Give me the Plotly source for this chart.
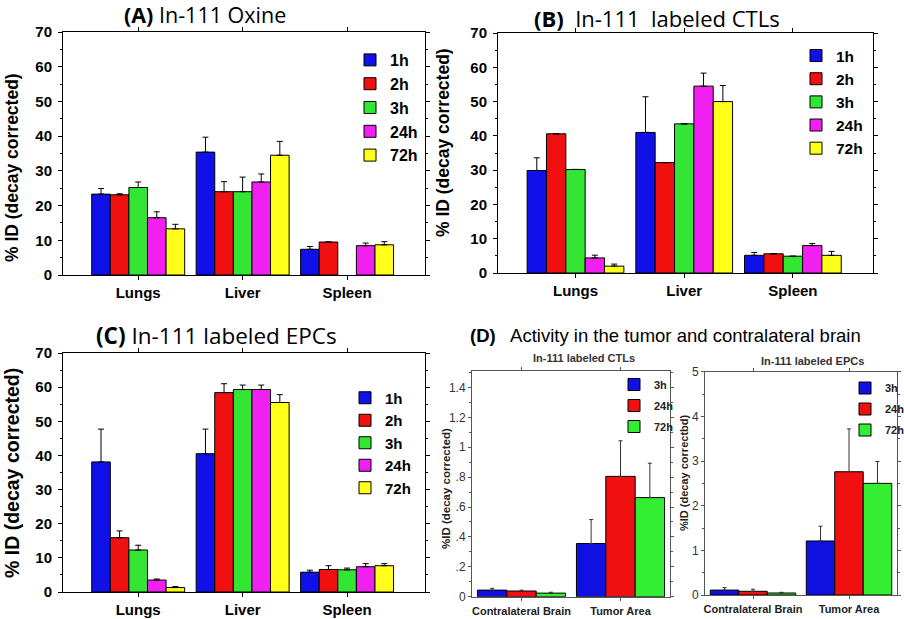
import plotly.graph_objects as go

# ---------------- data ----------------
organs = ["Lungs", "Liver", "Spleen"]
times_abc = ["1h", "2h", "3h", "24h", "72h"]

# Panel A: In-111 Oxine (mean, upper error; None = no error bar / no bar)
a_means = [[23.3, 35.4, 7.4], [23.1, 24.0, 9.5], [25.2, 24.0, None], [16.5, 26.8, 8.45], [13.3, 34.5, 8.7]]
a_errs = [[1.6, 4.3, 0.8], [0.3, 2.9, None], [1.6, 4.2, None], [1.7, 2.3, 0.75], [1.3, 4.0, 0.9]]

# Panel B: In-111 labeled CTLs
b_means = [[29.9, 41.0, 5.15], [40.6, 32.2, 5.6], [30.2, 43.5, 4.9], [4.4, 54.5, 8.0], [2.0, 50.0, 5.15]]
b_errs = [[3.7, 10.4, 0.85], [None, None, None], [None, None, None], [0.8, 3.8, 0.6], [0.6, 4.7, 1.15]]

# Panel C: In-111 labeled EPCs
c_means = [[38.1, 40.5, 5.8], [15.9, 58.4, 6.6], [12.3, 59.3, 6.5], [3.5, 59.3, 7.4], [1.3, 55.5, 7.7]]
c_errs = [[9.6, 7.2, 0.6], [2.0, 2.6, 1.1], [1.4, 1.3, 0.5], [0.3, 1.3, 0.9], [0.3, 2.3, 0.6]]

# Panel D: tumor vs contralateral brain
regions = ["Contralateral Brain", "Tumor Area"]
times_d = ["3h", "24h", "72h"]
d1_means = [[0.044, 0.356], [0.038, 0.805], [0.024, 0.663]]
d1_errs = [[0.012, 0.160], [0.006, 0.238], [0.006, 0.230]]
d2_means = [[0.11, 1.21], [0.083, 2.76], [0.045, 2.50]]
d2_errs = [[0.055, 0.33], [0.047, 0.96], [0.015, 0.49]]

d1_tickvals = [0, 0.2, 0.4, 0.6, 0.8, 1.0, 1.2, 1.4]
d1_ticktext = ["0", ".2", ".4", ".6", ".8", "1", "1.2", "1.4"]

colors_abc = ["#1010e8", "#f01010", "#33e633", "#f020f0", "#ffff1a"]
colors_d = ["#1010e0", "#f01010", "#33ee33"]

W, H = 904, 619


def px_x(v):
    return v / W


def px_y(v):
    return 1 - v / H


fig = go.Figure()


def add_panel(cats, names, means, errs, colors, ax, legend, err_color="black", err_w=3):
    for i, name in enumerate(names):
        fig.add_trace(go.Bar(
            x=cats, y=means[i], name=name,
            marker=dict(color=colors[i], line=dict(color="black", width=1)),
            error_y=dict(type="data", array=errs[i], arrayminus=[0] * len(errs[i]),
                         symmetric=False, color=err_color, thickness=1, width=err_w),
            xaxis="x" + ax, yaxis="y" + ax, legend=legend, legendgroup=legend + name,
        ))


add_panel(organs, times_abc, a_means, a_errs, colors_abc, "", "legend")
add_panel(organs, times_abc, b_means, b_errs, colors_abc, "2", "legend2")
add_panel(organs, times_abc, c_means, c_errs, colors_abc, "3", "legend3")
add_panel(regions, times_d, d1_means, d1_errs, colors_d, "4", "legend4", "#333", 2)
add_panel(regions, times_d, d2_means, d2_errs, colors_d, "5", "legend5", "#333", 2)

bold_tick = dict(family="Liberation Sans, Arial", size=15, color="black", weight="bold")


def xaxis_big(domain, anchor, rng):
    return dict(domain=domain, anchor=anchor, range=rng, showline=True, linecolor="black",
                linewidth=1, mirror="ticks", ticks="outside", ticklen=4, tickcolor="black",
                tickfont=bold_tick, showgrid=False, zeroline=False, fixedrange=True)


def yaxis_big(domain, anchor):
    return dict(domain=domain, anchor=anchor, range=[0, 70], dtick=10, showline=True,
                linecolor="black", linewidth=1, mirror="ticks", ticks="outside", ticklen=4,
                tickcolor="black", tickfont=bold_tick, showgrid=False, zeroline=False,
                minor=dict(dtick=5, ticks="outside", ticklen=2, tickcolor="black"),
                ticklabelstandoff=3)


small_tick = dict(family="Liberation Sans, Arial", size=12, color="#333")
small_cat = dict(family="Liberation Sans, Arial", size=11, color="#222", weight="bold")


def xaxis_small(domain, anchor):
    return dict(domain=domain, anchor=anchor, range=[-0.5, 1.5], showline=True, linecolor="#555",
                linewidth=1, mirror="ticks", ticks="outside", ticklen=3, tickcolor="#555",
                tickfont=small_cat, showgrid=False, zeroline=False, ticklabelstandoff=1)


def yaxis_small(domain, anchor, rng, dtick, minor, labels=None):
    d = dict(domain=domain, anchor=anchor, range=rng, dtick=dtick, showline=True, linecolor="#555",
             linewidth=1, mirror="ticks", ticks="outside", ticklen=3, tickcolor="#555",
             tickfont=small_tick, showgrid=False, zeroline=False,
             minor=dict(dtick=minor, ticks="outside", ticklen=2, tickcolor="#555"),
             ticklabelstandoff=0)
    if labels is not None:
        d.update(tickmode="array", tickvals=labels[0], ticktext=labels[1])
    return d


dA_x = [px_x(63), px_x(425)]
dA_y = [px_y(275), px_y(32)]
dB_x = [px_x(498), px_x(873)]
dB_y = [px_y(273), px_y(33)]
dC_x = [px_x(63), px_x(425)]
dC_y = [px_y(592), px_y(353)]
dD1_x = [px_x(472), px_x(670)]
dD1_y = [px_y(596.7), px_y(371)]
dD2_x = [px_x(705), px_x(897)]
dD2_y = [px_y(595), px_y(371.7)]


def lfont(size, color="black"):
    return dict(family="Liberation Sans, Arial", size=size, color=color, weight="bold")


def leg(x, y, font, gap):
    return dict(x=x, y=y, xref="paper", yref="paper", xanchor="left", yanchor="top",
                font=font, bgcolor="rgba(0,0,0,0)", tracegroupgap=gap, itemclick=False,
                borderwidth=0)


fig.update_layout(
    width=W, height=H, margin=dict(l=0, r=0, t=0, b=0, pad=0, autoexpand=False),
    paper_bgcolor="white", plot_bgcolor="white",
    barmode="group", bargap=0.11, bargroupgap=0,
    xaxis=xaxis_big(dA_x, "y", [-0.72, 2.746]),
    yaxis=yaxis_big(dA_y, "x"),
    xaxis2=xaxis_big(dB_x, "y2", [-0.713, 2.737]),
    yaxis2=yaxis_big(dB_y, "x2"),
    xaxis3=xaxis_big(dC_x, "y3", [-0.72, 2.746]),
    yaxis3=yaxis_big(dC_y, "x3"),
    xaxis4=xaxis_small(dD1_x, "y4"),
    yaxis4=yaxis_small(dD1_y, "x4", [0, 1.51], 0.2, 0.1, (d1_tickvals, d1_ticktext)),
    xaxis5=xaxis_small(dD2_x, "y5"),
    yaxis5=yaxis_small(dD2_y, "x5", [0, 5], 1, 0.5),
    legend=leg(px_x(350), px_y(43), lfont(16), 0),
    legend2=leg(px_x(796), px_y(39), lfont(15.5), 0),
    legend3=leg(px_x(345), px_y(381.5), lfont(15), 0),
    legend4=leg(px_x(614), px_y(370), lfont(11, "#222"), 2),
    legend5=leg(px_x(845), px_y(373.5), lfont(11, "#222"), 2),
    showlegend=True,
)

ylab_font = dict(family="Liberation Sans, Arial", size=17.5, color="black", weight="bold")

annotations = [
    dict(text="<b>(A)</b> In-111 Oxine", x=px_x(205), y=px_y(15),
         font=dict(family="Open Sans, Noto Sans", size=21.5, color="black")),
    dict(text="<b>(B)</b>  In-111  labeled CTLs", x=px_x(657), y=px_y(18),
         font=dict(family="Open Sans, Noto Sans", size=22, color="black")),
    dict(text="<b>(C)</b> In-111 labeled EPCs", x=px_x(216), y=px_y(335),
         font=dict(family="Open Sans, Noto Sans", size=22.5, color="black")),
    dict(text="<b>(D)</b>   Activity in the tumor and contralateral brain", x=px_x(665), y=px_y(335),
         font=dict(family="Liberation Sans, Arial", size=18.5, color="black")),
    dict(text="<b>In-111 labeled CTLs</b>", x=px_x(584), y=px_y(358),
         font=dict(family="Liberation Sans, Arial", size=11, color="#333")),
    dict(text="<b>In-111 labeled EPCs</b>", x=px_x(812), y=px_y(361),
         font=dict(family="Liberation Sans, Arial", size=11, color="#333")),
    dict(text="% ID (decay corrected)", x=px_x(12), y=px_y(168), textangle=-90, font=ylab_font),
    dict(text="% ID (decay corrected)", x=px_x(443), y=px_y(143), textangle=-90, font=ylab_font),
    dict(text="% ID (decay corrected)", x=px_x(12), y=px_y(473), textangle=-90,
         font=dict(family="Liberation Sans, Arial", size=19.5, color="black", weight="bold")),
    dict(text="%ID (decay corrected)", x=px_x(446), y=px_y(489), textangle=-90,
         font=dict(family="Liberation Sans, Arial", size=11.5, color="#222", weight="bold")),
    dict(text="%ID (decay correctbd)", x=px_x(684), y=px_y(473), textangle=-90,
         font=dict(family="Liberation Sans, Arial", size=11, color="#222", weight="bold")),
]
for a in annotations:
    a.update(xref="paper", yref="paper", showarrow=False, xanchor="center", yanchor="middle")
fig.update_layout(annotations=annotations)

fig.write_html("out.html", config={"displayModeBar": False},
               post_script="document.body.style.margin='0';")
